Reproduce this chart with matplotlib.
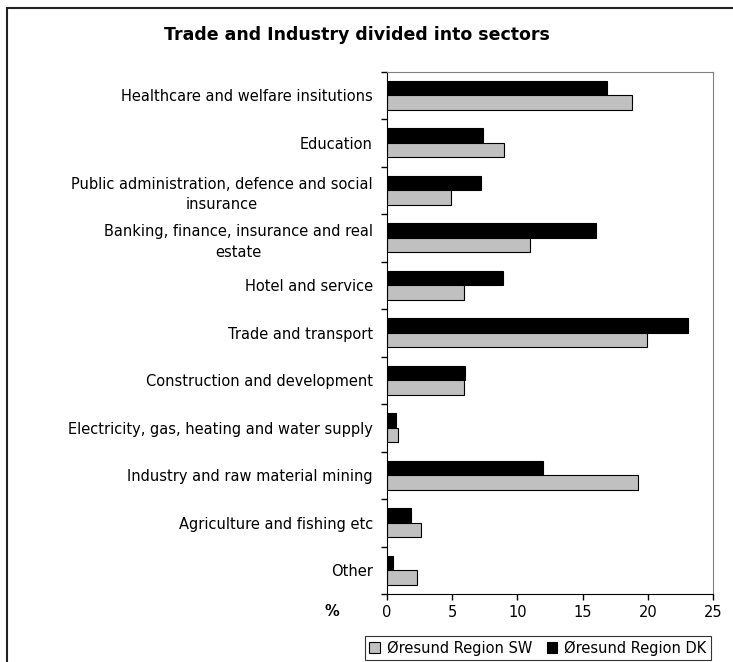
import numpy as np
import matplotlib
matplotlib.use('Agg')
import matplotlib.pyplot as plt
from matplotlib.patches import Rectangle

plt.rcParams['font.family'] = ['DejaVu Sans']

# sectors, top to bottom as in the chart
sectors = ['Healthcare and welfare insitutions',
           'Education',
           'Public administration, defence and social\ninsurance',
           'Banking, finance, insurance and real\nestate',
           'Hotel and service',
           'Trade and transport',
           'Construction and development',
           'Electricity, gas, heating and water supply',
           'Industry and raw material mining',
           'Agriculture and fishing etc',
           'Other']
dk = [16.9, 7.4, 7.2, 16.0, 8.9, 23.1, 6.0, 0.7, 12.0, 1.9, 0.5]
sw = [18.8, 9.0, 4.9, 11.0, 5.9, 19.9, 5.9, 0.9, 19.2, 2.6, 2.3]
xticks = [0, 5, 10, 15, 20, 25]

fig = plt.figure(figsize=(7.33, 6.62), dpi=100)
ax = fig.add_axes([0.5275, 0.1027, 0.4456, 0.789])

y = np.arange(len(sectors))
h = 0.305
ax.barh(y - h / 2, dk, height=h, color='black', edgecolor='black', linewidth=0.8,
        label='Øresund Region DK')
ax.barh(y + h / 2, sw, height=h, color='#c0c0c0', edgecolor='black', linewidth=0.8,
        label='Øresund Region SW')

ax.set_xlim(0, 25)
ax.set_ylim(len(sectors) - 0.5, -0.5)
ax.set_xticks(xticks)
ax.set_xticklabels([str(t) for t in xticks], fontsize=10.5)
ax.tick_params(axis='x', direction='out', length=4, width=1, pad=4)

# ticks between categories, labels in the middle
ax.set_yticks(np.arange(len(sectors) + 1) - 0.5)
ax.set_yticklabels([])
ax.set_yticks(y, minor=True)
ax.set_yticklabels(sectors, minor=True, fontsize=10.5)
ax.tick_params(axis='y', which='major', direction='out', length=4, width=1)
ax.tick_params(axis='y', which='minor', length=0, pad=10)
for lab in ax.get_yticklabels(minor=True):
    lab.set_multialignment('center')
    lab.set_linespacing(1.45)

ax.spines['left'].set_color('black')
ax.spines['bottom'].set_color('black')
ax.spines['top'].set_color('#808080')
ax.spines['right'].set_color('#808080')

fig.text(332 / 733, 1 - 611 / 662, '%', fontsize=10.5, fontweight='bold',
         ha='center', va='center')
fig.text(357 / 733, 1 - 35 / 662, 'Trade and Industry divided into sectors',
         fontsize=12.5, fontweight='bold', ha='center', va='center')

handles, labels = ax.get_legend_handles_labels()
leg = fig.legend(handles[::-1], labels[::-1], loc='center', ncol=2,
                 bbox_to_anchor=(538 / 733, 1 - 648 / 662), fontsize=10.5,
                 frameon=True, fancybox=False, edgecolor='black',
                 handlelength=0.7, handleheight=0.7, handletextpad=0.5,
                 columnspacing=1.0, borderpad=0.3, borderaxespad=0)
leg.get_frame().set_linewidth(0.8)

fig.patches.append(Rectangle((7 / 733, -0.1), 1.0, 0.1 + 1 - 8 / 662,
                             transform=fig.transFigure, fill=False,
                             edgecolor='#222222', linewidth=1.5))

fig.savefig('out.png', dpi=100)
